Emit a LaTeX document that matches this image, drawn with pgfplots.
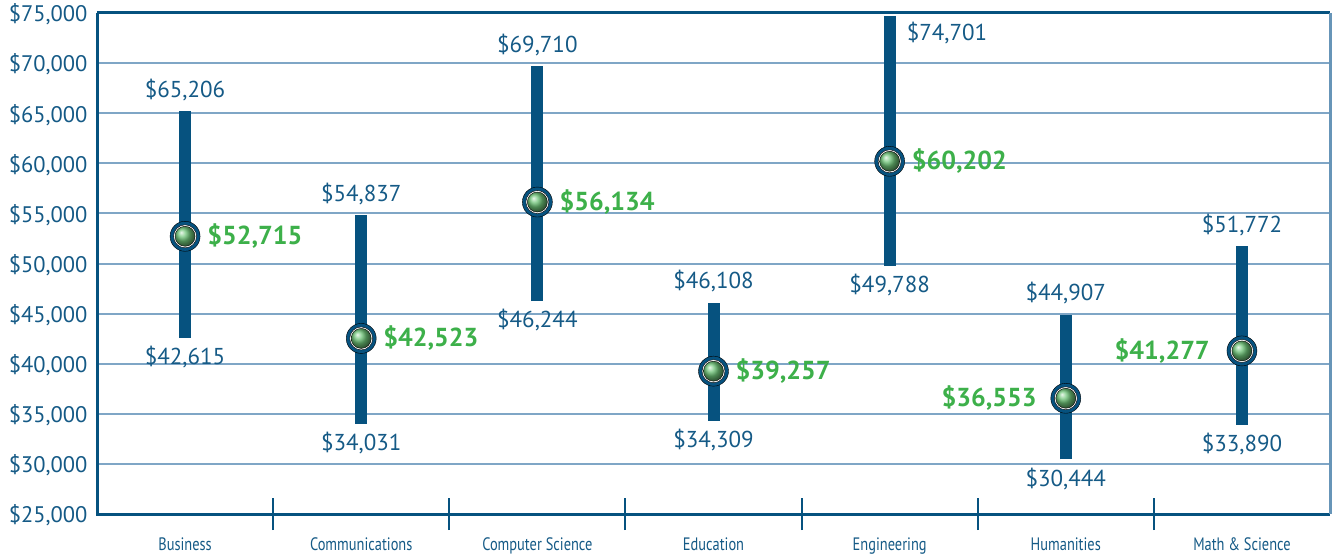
\documentclass[border=0pt]{standalone}
\usepackage{pgfplots}
\pgfplotsset{compat=1.18}
\usepackage{fontspec}
\setmainfont{PT Sans}
\definecolor{barblue}{HTML}{06527F}
\definecolor{txtblue}{HTML}{155A86}
\definecolor{gridblue}{HTML}{7FA6C6}
\definecolor{meangreen}{HTML}{3DB04A}
\newcommand\cond[1]{\scalebox{0.8}[1]{#1}}
\begin{document}
\begin{tikzpicture}
\begin{axis}[
  scale only axis, width=1233pt, height=501pt,
  xmin=-0.5, xmax=6.5, ymin=25000, ymax=75000,
  scaled y ticks=false,
  xtick pos=bottom, ytick pos=left,
  xtick={0,...,6},
  xticklabels={\cond{Business},\cond{Communications},\cond{Computer Science},\cond{Education},\cond{Engineering},\cond{Humanities},\cond{Math \& Science}},
  x tick label style={font=\fontsize{18}{18}\selectfont, text=txtblue, yshift=-20pt},
  extra x ticks={0.5,1.5,2.5,3.5,4.5,5.5},
  extra x tick labels={},
  extra x tick style={major tick length=32pt, tick align=center, tick style={draw=barblue, line width=2pt}, grid=none},
  ytick={25000,30000,...,75000},
  yticklabels={\$25{,}000,\$30{,}000,\$35{,}000,\$40{,}000,\$45{,}000,\$50{,}000,\$55{,}000,\$60{,}000,\$65{,}000,\$70{,}000,\$75{,}000},
  y tick label style={font=\fontsize{22.5}{22.5}\selectfont, text=txtblue, xshift=-6pt, yshift=-1.5pt},
  major tick length=0pt,
  ymajorgrids, grid style={draw=gridblue, line width=2pt},
  axis line style={draw=none},
  clip=false,
]
\pgfplotsset{bar/.style={draw=barblue, line width=12pt, mark=none, forget plot}}
\addplot[bar] coordinates {(0,42615) (0,65206)};
\addplot[bar] coordinates {(1,34031) (1,54837)};
\addplot[bar] coordinates {(2,46244) (2,69710)};
\addplot[bar] coordinates {(3,34309) (3,46108)};
\addplot[bar] coordinates {(4,49788) (4,74701)};
\addplot[bar] coordinates {(5,30444) (5,44907)};
\addplot[bar] coordinates {(6,33890) (6,51772)};

\addplot[only marks, mark=*, mark size=15pt, mark options={fill=barblue, draw=none}] coordinates {(0,52715) (1,42523) (2,56134) (3,39257) (4,60202) (5,36553) (6,41277)};
\addplot[only marks, mark=*, mark size=11.5pt, mark options={fill=white, draw=none}] coordinates {(0,52715) (1,42523) (2,56134) (3,39257) (4,60202) (5,36553) (6,41277)};
\addplot[only marks, mark=ball, mark size=10pt, mark options={ball color=meangreen!75!white}] coordinates {(0,52715) (1,42523) (2,56134) (3,39257) (4,60202) (5,36553) (6,41277)};

% frame
\draw[barblue, line width=3pt] (rel axis cs:0,1) -- (rel axis cs:0,0) -- (rel axis cs:1,0);
\draw[barblue, line width=3pt] (rel axis cs:0,1) -- (rel axis cs:1,1);
\draw[gridblue!80!barblue, line width=3pt] (rel axis cs:1,1) -- (rel axis cs:1,0);

\tikzset{val/.style={font=\fontsize{23}{23}\selectfont, text=txtblue, inner sep=0pt},
         mean/.style={font=\fontsize{26}{26}\selectfont\bfseries, text=meangreen, inner sep=0pt}}
% max labels
\node[val, anchor=south] at ([yshift=10pt]axis cs:0,65206) {\$65,206};
\node[val, anchor=south] at ([yshift=10pt]axis cs:1,54837) {\$54,837};
\node[val, anchor=south] at ([yshift=10pt]axis cs:2,69710) {\$69,710};
\node[val, anchor=south] at ([yshift=10pt]axis cs:3,46108) {\$46,108};
\node[val, anchor=north west] at ([xshift=17pt,yshift=-6pt]axis cs:4,74701) {\$74,701};
\node[val, anchor=south] at ([yshift=10pt]axis cs:5,44907) {\$44,907};
\node[val, anchor=south] at ([yshift=10pt]axis cs:6,51772) {\$51,772};
% min labels
\node[val, anchor=north] at ([yshift=-8pt]axis cs:0,42615) {\$42,615};
\node[val, anchor=north] at ([yshift=-8pt]axis cs:1,34031) {\$34,031};
\node[val, anchor=north] at ([yshift=-8pt]axis cs:2,46244) {\$46,244};
\node[val, anchor=north] at ([yshift=-8pt]axis cs:3,34309) {\$34,309};
\node[val, anchor=north] at ([yshift=-8pt]axis cs:4,49788) {\$49,788};
\node[val, anchor=north] at ([yshift=-8pt]axis cs:5,30444) {\$30,444};
\node[val, anchor=north] at ([yshift=-8pt]axis cs:6,33890) {\$33,890};
% mean labels
\node[mean, anchor=west] at ([xshift=22pt]axis cs:0,52715) {\$52,715};
\node[mean, anchor=west] at ([xshift=22pt]axis cs:1,42523) {\$42,523};
\node[mean, anchor=west] at ([xshift=22pt]axis cs:2,56134) {\$56,134};
\node[mean, anchor=west] at ([xshift=22pt]axis cs:3,39257) {\$39,257};
\node[mean, anchor=west] at ([xshift=22pt]axis cs:4,60202) {\$60,202};
\node[mean, anchor=east] at ([xshift=-29pt]axis cs:5,36553) {\$36,553};
\node[mean, anchor=east] at ([xshift=-32pt]axis cs:6,41277) {\$41,277};
\end{axis}
\pgfresetboundingbox
\path ([shift={(-97pt,-43pt)}]current axis.south west) rectangle ([shift={(6pt,13pt)}]current axis.north east);
\end{tikzpicture}
\end{document}
